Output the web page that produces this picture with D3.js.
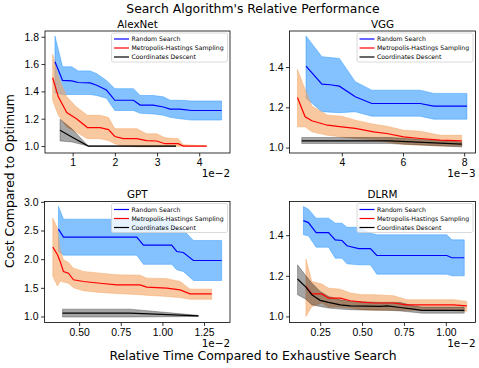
<!DOCTYPE html>
<html>
<head>
<meta charset="utf-8">
<script src="https://cdn.jsdelivr.net/npm/d3@7"></script>
<style>
  body { margin: 0; background: #fff; }
  svg { display: block; font-family: "DejaVu Sans", sans-serif; }
  .tick text { font-size: 10.4px; fill: #000; }
  .tick line { stroke: #000; stroke-width: 0.8; }
</style>
</head>
<body>
<svg width="479" height="368"></svg>
<script>
// ---- data (x values in units shown on the axis, i.e. before the 1e-2 / 1e-3 offset) ----
const seriesNames = ["Random Search", "Metropolis-Hastings Sampling", "Coordinates Descent"]

// AlexNet
const alexRsX    = [0.58, 0.76, 0.98, 1.13, 1.41, 1.57, 1.80, 2.00, 2.44, 2.60, 2.91, 3.15, 3.31, 3.54, 3.82, 4.53]
const alexRsMean = [1.617, 1.48, 1.477, 1.465, 1.462, 1.445, 1.41, 1.335, 1.335, 1.30, 1.30, 1.286, 1.27, 1.27, 1.26, 1.26]
const alexRsHi   = [1.805, 1.58, 1.58, 1.55, 1.55, 1.53, 1.48, 1.42, 1.42, 1.37, 1.37, 1.36, 1.335, 1.335, 1.33, 1.33]
const alexRsLo   = [1.39, 1.377, 1.377, 1.377, 1.377, 1.37, 1.35, 1.26, 1.26, 1.24, 1.235, 1.225, 1.21, 1.20, 1.19, 1.19]
const alexMhX    = [0.526, 0.66, 0.86, 1.09, 1.35, 1.65, 1.85, 2.00, 2.20, 2.52, 2.75, 2.99, 3.19, 3.50, 3.62, 4.18]
const alexMhMean = [1.50, 1.36, 1.245, 1.20, 1.135, 1.135, 1.12, 1.07, 1.054, 1.054, 1.04, 1.037, 1.017, 1.017, 1.0, 1.0]
const alexMhHi   = [1.67, 1.506, 1.36, 1.286, 1.225, 1.225, 1.208, 1.127, 1.127, 1.127, 1.09, 1.09, 1.06, 1.054, 1.01, 1.0]
const alexMhLo   = [1.335, 1.225, 1.14, 1.10, 1.054, 1.054, 1.04, 1.017, 1.0, 0.993, 0.993, 0.993, 0.995, 0.998, 1.0, 1.0]
const alexCdX    = [0.70, 0.98, 1.37, 3.45]
const alexCdMean = [1.115, 1.066, 1.0, 1.0]
const alexCdHi   = [1.196, 1.127, 1.0, 1.0]
const alexCdLo   = [1.037, 1.03, 1.0, 1.0]

// VGG
const vggRsX    = [2.83, 3.35, 3.62, 3.92, 4.44, 4.98, 6.56, 7.0, 8.09]
const vggRsMean = [1.405, 1.315, 1.312, 1.305, 1.252, 1.219, 1.219, 1.206, 1.206]
const vggRsHi   = [1.554, 1.451, 1.447, 1.443, 1.327, 1.285, 1.285, 1.269, 1.269]
const vggRsLo   = [1.245, 1.178, 1.176, 1.173, 1.178, 1.156, 1.156, 1.141, 1.141]
const vggMhX    = [2.55, 2.80, 3.02, 3.53, 4.0, 4.44, 5.04, 5.47, 6.02, 6.56, 7.22, 7.92]
const vggMhMean = [1.249, 1.153, 1.133, 1.111, 1.103, 1.095, 1.078, 1.07, 1.053, 1.045, 1.037, 1.033]
const vggMhHi   = [1.388, 1.289, 1.206, 1.161, 1.156, 1.136, 1.116, 1.106, 1.086, 1.081, 1.061, 1.061]
const vggMhLo   = [1.103, 1.103, 1.078, 1.061, 1.053, 1.045, 1.04, 1.028, 1.015, 1.012, 1.008, 1.008]
const vggCdX    = [2.69, 5.58, 7.92]
const vggCdMean = [1.033, 1.033, 1.017]
const vggCdHi   = [1.05, 1.05, 1.028]
const vggCdLo   = [1.02, 1.02, 1.003]

// GPT
const gptRsX    = [0.376, 0.406, 0.846, 0.886, 1.056, 1.086, 1.126, 1.186, 1.356]
const gptRsMean = [2.523, 2.384, 2.384, 2.244, 2.244, 2.134, 2.116, 1.977, 1.977]
const gptRsHi   = [2.919, 2.698, 2.698, 2.698, 2.686, 2.54, 2.51, 2.326, 2.326]
const gptRsLo   = [2.134, 2.07, 2.07, 1.91, 1.91, 1.814, 1.785, 1.628, 1.628]
const gptMhX    = [0.342, 0.37, 0.386, 0.406, 0.436, 0.466, 0.526, 0.626, 0.726, 0.866, 0.906, 1.026, 1.106, 1.166, 1.296]
const gptMhMean = [2.209, 2.076, 1.959, 1.785, 1.756, 1.64, 1.61, 1.58, 1.552, 1.552, 1.512, 1.494, 1.465, 1.395, 1.395]
const gptMhHi   = [2.715, 2.54, 2.163, 1.988, 1.942, 1.843, 1.785, 1.756, 1.727, 1.72, 1.669, 1.66, 1.61, 1.477, 1.477]
const gptMhLo   = [1.70, 1.53, 1.62, 1.60, 1.58, 1.50, 1.45, 1.42, 1.40, 1.38, 1.37, 1.35, 1.33, 1.30, 1.30]
const gptCdX    = [0.40, 0.806, 1.216]
const gptCdMean = [1.058, 1.058, 1.012]
const gptCdHi   = [1.128, 1.128, 1.02]
const gptCdLo   = [0.99, 0.99, 1.0]

// DLRM
const dlrmRsX    = [0.15, 0.18, 0.226, 0.30, 0.34, 0.38, 0.41, 0.48, 0.55, 0.588, 1.006, 1.036, 1.11]
const dlrmRsMean = [1.472, 1.462, 1.413, 1.413, 1.377, 1.374, 1.348, 1.334, 1.334, 1.30, 1.30, 1.289, 1.289]
const dlrmRsHi   = [1.541, 1.528, 1.484, 1.484, 1.459, 1.459, 1.439, 1.439, 1.41, 1.402, 1.402, 1.377, 1.377]
const dlrmRsLo   = [1.402, 1.397, 1.341, 1.341, 1.287, 1.287, 1.259, 1.254, 1.254, 1.208, 1.208, 1.2, 1.2]
const dlrmMhX    = [0.165, 0.20, 0.26, 0.30, 0.37, 0.43, 0.50, 0.568, 0.688, 0.767, 1.046, 1.125]
const dlrmMhMean = [1.148, 1.111, 1.111, 1.09, 1.09, 1.077, 1.07, 1.066, 1.066, 1.057, 1.057, 1.052]
const dlrmMhHi   = [1.282, 1.172, 1.16, 1.139, 1.134, 1.115, 1.107, 1.107, 1.102, 1.082, 1.082, 1.074]
const dlrmMhLo   = [1.0, 1.049, 1.066, 1.046, 1.046, 1.041, 1.033, 1.03, 1.03, 1.03, 1.03, 1.025]
const dlrmCdX    = [0.115, 0.165, 0.20, 0.25, 0.30, 0.37, 0.43, 0.61, 0.65, 0.727, 0.807, 0.857, 1.11]
const dlrmCdMean = [1.184, 1.144, 1.107, 1.079, 1.069, 1.057, 1.052, 1.049, 1.052, 1.044, 1.036, 1.03, 1.03]
const dlrmCdHi   = [1.254, 1.20, 1.164, 1.123, 1.098, 1.082, 1.074, 1.069, 1.069, 1.069, 1.052, 1.046, 1.046]
const dlrmCdLo   = [1.107, 1.085, 1.057, 1.049, 1.041, 1.036, 1.033, 1.03, 1.03, 1.027, 1.02, 1.016, 1.016]

// ticks
const alexXTicks = [1, 2, 3, 4],             alexYTicks = [1.0, 1.2, 1.4, 1.6, 1.8]
const vggXTicks  = [4, 6, 8],                vggYTicks  = [1.0, 1.2, 1.4]
const gptXTicks  = [0.5, 0.75, 1.0, 1.25],   gptYTicks  = [1.0, 1.5, 2.0, 2.5, 3.0]
const dlrmXTicks = [0.25, 0.5, 0.75, 1.0],   dlrmYTicks = [1.0, 1.2, 1.4]

const lineColors = ["#0000ff", "#ff0000", "#000000"]
const fillColors = ["rgba(30,144,255,0.55)", "rgba(244,164,96,0.6)", "rgba(0,0,0,0.35)"]

const zip = (x, m, lo, hi) => x.map((d, i) => ({x: d, m: m[i], lo: lo[i], hi: hi[i]}))

const panels = [
  {title: "AlexNet", box: [45, 31, 230, 153], xd: [0.344, 4.73], yd: [0.949, 1.842],
   xt: alexXTicks, yt: alexYTicks, xf: d3.format("d"), yf: d3.format(".1f"), off: "1e\u22122",
   series: [zip(alexRsX, alexRsMean, alexRsLo, alexRsHi), zip(alexMhX, alexMhMean, alexMhLo, alexMhHi), zip(alexCdX, alexCdMean, alexCdLo, alexCdHi)]},
  {title: "VGG", box: [289.5, 31, 475.5, 153], xd: [2.29, 8.37], yd: [0.973, 1.579],
   xt: vggXTicks, yt: vggYTicks, xf: d3.format("d"), yf: d3.format(".1f"), off: "1e\u22123",
   series: [zip(vggRsX, vggRsMean, vggRsLo, vggRsHi), zip(vggMhX, vggMhMean, vggMhLo, vggMhHi), zip(vggCdX, vggCdMean, vggCdLo, vggCdHi)]},
  {title: "GPT", box: [44.5, 201.5, 230, 322.5], xd: [0.292, 1.406], yd: [0.895, 3.006],
   xt: gptXTicks, yt: gptYTicks, xf: d3.format(".2f"), yf: d3.format(".1f"), off: "1e\u22122",
   series: [zip(gptRsX, gptRsMean, gptRsLo, gptRsHi), zip(gptMhX, gptMhMean, gptMhLo, gptMhHi), zip(gptCdX, gptCdMean, gptCdLo, gptCdHi)]},
  {title: "DLRM", box: [289.5, 201.5, 475.5, 322.5], xd: [0.067, 1.177], yd: [0.970, 1.566],
   xt: dlrmXTicks, yt: dlrmYTicks, xf: d3.format(".2f"), yf: d3.format(".1f"), off: "1e\u22122",
   series: [zip(dlrmRsX, dlrmRsMean, dlrmRsLo, dlrmRsHi), zip(dlrmMhX, dlrmMhMean, dlrmMhLo, dlrmMhHi), zip(dlrmCdX, dlrmCdMean, dlrmCdLo, dlrmCdHi)]}
]

const svg = d3.select('svg')

const drawPanel = (p) => {
  const [x0, y0, x1, y1] = p.box
  const x = d3.scaleLinear().domain(p.xd).range([x0, x1])
  const y = d3.scaleLinear().domain(p.yd).range([y1, y0])
  const g = svg.append('g')

  const clipId = 'clip-' + p.title
  g.append('clipPath').attr('id', clipId)
    .append('rect').attr('x', x0).attr('y', y0).attr('width', x1 - x0).attr('height', y1 - y0)
  const plot = g.append('g').attr('clip-path', `url(#${clipId})`)

  const area = d3.area().x(d => x(d.x)).y0(d => y(d.lo)).y1(d => y(d.hi))
  const line = d3.line().x(d => x(d.x)).y(d => y(d.m))

  p.series.forEach((s, i) => {
    plot.append('path').attr('d', area(s))
      .attr('fill', fillColors[i]).attr('stroke', fillColors[i]).attr('stroke-width', 0.8)
  })
  p.series.forEach((s, i) => {
    plot.append('path').attr('d', line(s))
      .attr('fill', 'none').attr('stroke', lineColors[i]).attr('stroke-width', 1.2)
  })

  // axes
  const xa = g.append('g').attr('transform', `translate(0,${y1})`)
    .call(d3.axisBottom(x).tickValues(p.xt).tickFormat(p.xf).tickSize(3.5).tickPadding(2.5))
  xa.select('.domain').remove()
  xa.selectAll('text').attr('font-family', null).attr('font-size', null)
  const ya = g.append('g').attr('transform', `translate(${x0},0)`)
    .call(d3.axisLeft(y).tickValues(p.yt).tickFormat(p.yf).tickSize(3.5).tickPadding(2.5))
  ya.select('.domain').remove()
  ya.selectAll('text').attr('font-family', null).attr('font-size', null)

  g.append('rect').attr('x', x0).attr('y', y0).attr('width', x1 - x0).attr('height', y1 - y0)
    .attr('fill', 'none').attr('stroke', '#000').attr('stroke-width', 0.8)

  g.append('text').attr('x', x1).attr('y', y1 + 24).attr('text-anchor', 'end')
    .attr('font-size', 10.4).text(p.off)

  g.append('text').attr('x', (x0 + x1) / 2).attr('y', y0 - 3.5).attr('text-anchor', 'middle')
    .attr('font-size', 10.4).text(p.title)

  // legend
  const lw = 116, lh = 29
  const lg = g.append('g').attr('transform', `translate(${x1 - lw - 2.5},${y0 + 2})`)
  lg.append('rect').attr('width', lw).attr('height', lh).attr('rx', 2)
    .attr('fill', 'rgba(255,255,255,0.8)').attr('stroke', '#d0d0d0').attr('stroke-width', 0.8)
  seriesNames.forEach((n, i) => {
    const cy = 6 + i * 9
    lg.append('line').attr('x1', 2.5).attr('x2', 17.5).attr('y1', cy).attr('y2', cy)
      .attr('stroke', lineColors[i]).attr('stroke-width', 1.2)
    lg.append('text').attr('x', 20).attr('y', cy + 2.2).attr('font-size', 6.2).text(n)
  })
}

panels.forEach(drawPanel)

svg.append('text').attr('x', 253).attr('y', 13).attr('text-anchor', 'middle')
  .attr('font-size', 12.4).text("Search Algorithm's Relative Performance")
svg.append('text').attr('x', 253).attr('y', 359.5).attr('text-anchor', 'middle')
  .attr('font-size', 12.4).text("Relative Time Compared to Exhaustive Search")
svg.append('text').attr('transform', 'translate(14,181) rotate(-90)').attr('text-anchor', 'middle')
  .attr('font-size', 12.4).text("Cost Compared to Optimum")
</script>
</body>
</html>
